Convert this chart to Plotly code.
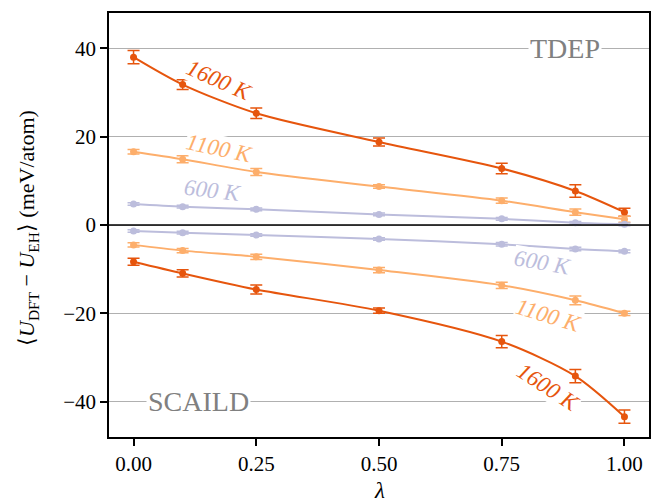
import plotly.graph_objects as go

lam = [0.0, 0.1, 0.25, 0.5, 0.75, 0.9, 1.0]

tdep_1600 = [38.0, 31.8, 25.3, 18.8, 12.8, 7.7, 2.9]
tdep_1600_err = [1.5, 1.1, 1.2, 0.9, 1.2, 1.4, 0.9]
tdep_1100 = [16.6, 14.9, 12.0, 8.7, 5.5, 2.9, 1.3]
tdep_1100_err = [0.5, 0.8, 0.8, 0.4, 0.6, 0.7, 0.7]
tdep_600 = [4.75, 4.15, 3.55, 2.4, 1.4, 0.5, 0.15]
tdep_600_err = [0.3, 0.3, 0.3, 0.3, 0.3, 0.3, 0.3]

scaild_600 = [-1.36, -1.74, -2.26, -3.17, -4.37, -5.43, -5.96]
scaild_600_err = [0.3, 0.3, 0.3, 0.3, 0.4, 0.4, 0.3]
scaild_1100 = [-4.5, -5.8, -7.2, -10.2, -13.65, -17.05, -20.0]
scaild_1100_err = [0.5, 0.5, 0.6, 0.6, 0.7, 1.0, 0.5]
scaild_1600 = [-8.3, -10.95, -14.6, -19.4, -26.4, -34.2, -43.4]
scaild_1600_err = [0.8, 0.8, 1.0, 0.6, 1.4, 1.5, 1.5]

C1600 = "#e6550d"
C1100 = "#fdae6b"
C600 = "#bcbddc"

FONT = "Liberation Serif"

series = [
    (tdep_1600, tdep_1600_err, C1600),
    (tdep_1100, tdep_1100_err, C1100),
    (tdep_600, tdep_600_err, C600),
    (scaild_600, scaild_600_err, C600),
    (scaild_1100, scaild_1100_err, C1100),
    (scaild_1600, scaild_1600_err, C1600),
]

fig = go.Figure()
for ys, es, c in series:
    fig.add_trace(go.Scatter(
        x=lam, y=ys, mode="lines+markers",
        line=dict(color=c, width=2, shape="spline", smoothing=0.8),
        marker=dict(color=c, size=7),
        error_y=dict(type="data", array=es, visible=True, color=c, thickness=1.5, width=6),
        showlegend=False,
    ))

# zero line
fig.add_shape(type="line", xref="paper", yref="y", x0=0, x1=1, y0=0, y1=0,
              line=dict(color="black", width=1.5), layer="above")

labels = [
    ("1600 K", 0.175, 32.8, 24, C1600),
    ("1100 K", 0.175, 17.4, 12, C1100),
    ("600 K", 0.161, 7.9, 7, C600),
    ("600 K", 0.833, -8.4, 10, C600),
    ("1100 K", 0.845, -20.4, 17, C1100),
    ("1600 K", 0.845, -36.7, 33, C1600),
]
for txt, x, y, ang, c in labels:
    fig.add_annotation(x=x, y=y, text="<i>%s</i>" % txt, showarrow=False,
                       textangle=ang, font=dict(family=FONT, size=23, color=c),
                       bgcolor="white", borderpad=0)

fig.add_annotation(x=0.878, y=40, text="TDEP", showarrow=False,
                   font=dict(family=FONT, size=28, color="#808080"),
                   bgcolor="white", borderpad=1)
fig.add_annotation(x=0.132, y=-40, text="SCAILD", showarrow=False,
                   font=dict(family=FONT, size=28, color="#808080"),
                   bgcolor="white", borderpad=1)

# axis titles
fig.add_annotation(xref="paper", yref="paper", x=0.5, y=-0.125, text="<i>λ</i>",
                   showarrow=False, xanchor="center", yanchor="middle",
                   font=dict(family=FONT, size=23, color="black"))
fig.add_annotation(xref="paper", yref="paper", x=-0.15, y=0.493,
                   text="⟨<i>U</i><sub>DFT</sub> − <i>U</i><sub>EH</sub>⟩ (meV/atom)",
                   showarrow=False, xanchor="center", yanchor="middle", textangle=-90,
                   font=dict(family=FONT, size=22, color="black"))

fig.update_layout(
    width=660, height=502,
    margin=dict(l=109, r=11, t=13, b=65, autoexpand=False),
    paper_bgcolor="white", plot_bgcolor="white",
    font=dict(family=FONT, size=21, color="black"),
    xaxis=dict(
        range=[-0.05, 1.05], tickvals=[0, 0.25, 0.5, 0.75, 1.0],
        ticktext=["0.00", "0.25", "0.50", "0.75", "1.00"],
        showgrid=False, zeroline=False, automargin=False,
        showline=True, linecolor="black", linewidth=1.5, mirror=True,
        ticks="outside", ticklen=7, tickwidth=1.5, tickcolor="black",
    ),
    yaxis=dict(
        range=[-48, 48], tickvals=[-40, -20, 0, 20, 40],
        ticktext=["−40", "−20", "0", "20", "40"],
        showgrid=True, gridcolor="#b0b0b0", gridwidth=1, zeroline=False, automargin=False,
        showline=True, linecolor="black", linewidth=1.5, mirror=True,
        ticks="outside", ticklen=7, tickwidth=1.5, tickcolor="black",
    ),
)

fig.write_html("out.html")
